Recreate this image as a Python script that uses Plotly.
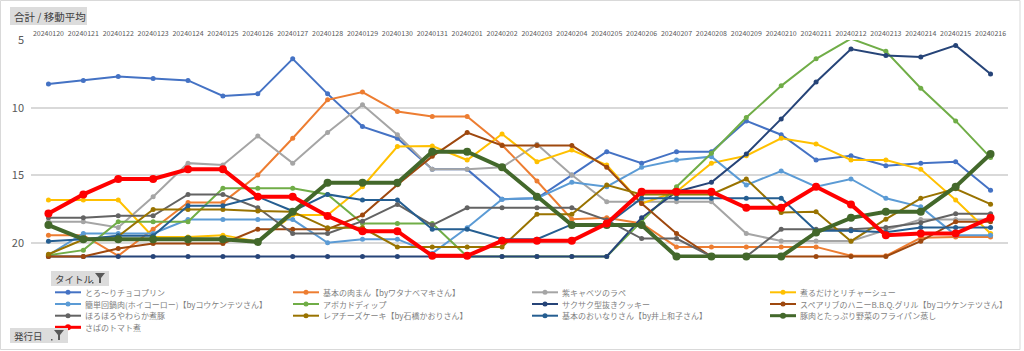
import plotly.graph_objects as go

# ---------------- data ----------------
dates = ["20240120", "20240121", "20240122", "20240123", "20240124", "20240125", "20240126",
         "20240127", "20240128", "20240129", "20240130", "20240131", "20240201", "20240202",
         "20240203", "20240204", "20240205", "20240206", "20240207", "20240208", "20240209",
         "20240210", "20240211", "20240212", "20240213", "20240214", "20240215", "20240216"]

names = ["とろ〜りチョコプリン", "基本の肉まん【byワタナベマキさん】", "紫キャベツのラペ", "煮るだけとリチャーシュー",
         "簡単回鍋肉(ホイコーロー)【byコウケンテツさん】", "アボカドディップ", "サクサク型抜きクッキー",
         "スペアリブのハニーB.B.Q.グリル【byコウケンテツさん】", "ほろほろやわらか煮豚",
         "レアチーズケーキ【by石橋かおりさん】", "基本のおいなりさん【by井上和子さん】",
         "豚肉とたっぷり野菜のフライパン蒸し", "さばのトマト煮"]

choco = [8.26, 7.99, 7.7, 7.84, 7.99, 9.13, 8.98, 6.39, 8.98, 11.4, 12.26, 14.56, 14.56, 16.76,
         16.7, 14.98, 13.25, 14.1, 13.25, 13.25, 10.98, 12.0, 13.87, 13.55, 14.29, 14.1, 13.99, 16.11]
nikuman = [19.42, 19.42, 20.95, 18.98, 17.0, 17.0, 14.98, 12.26, 9.42, 8.85, 10.29, 10.66, 10.66, 12.76,
           15.42, 18.24, 18.14, 18.56, 20.29, 20.29, 20.29, 20.29, 20.29, 20.95, 20.95, 19.62, 19.55, 19.55]
cabbage = [18.43, 18.43, 18.85, 16.58, 14.1, 14.24, 12.1, 14.1, 11.84, 9.79, 12.01, 14.56, 14.56, 14.41,
           12.7, 14.98, 16.95, 16.95, 16.95, 16.95, 19.3, 19.85, 19.85, 19.85, 19.05, 18.27, 18.27, 18.27]
chashu = [16.83, 16.83, 16.83, 19.55, 19.55, 19.42, 19.9, 17.94, 17.94, 15.84, 12.87, 12.83, 13.87, 11.94,
          13.99, 13.13, 14.24, 17.08, 16.21, 14.1, 13.55, 12.26, 12.68, 13.87, 13.87, 14.56, 16.83, 19.3]
hoikoro = [20.9, 19.3, 19.3, 19.3, 18.27, 18.27, 18.27, 18.27, 19.99, 19.72, 19.72, 20.77, 18.88, 16.76,
           16.7, 15.52, 15.84, 14.41, 13.87, 13.62, 15.72, 14.68, 15.84, 15.27, 16.7, 17.33, 19.42, 19.42]
avocado = [20.9, 20.53, 18.43, 18.43, 18.43, 15.96, 15.96, 15.96, 16.41, 18.56, 18.56, 18.56, 21.0, 21.0,
           21.0, 21.0, 21.0, 18.4, 15.84, 13.37, 10.73, 8.39, 6.39, 4.9, 5.84, 8.56, 10.98, 13.69]
cookie = [21.0, 21.0, 21.0, 21.0, 21.0, 21.0, 21.0, 21.0, 21.0, 21.0, 21.0, 21.0, 21.0, 21.0,
          21.0, 21.0, 21.0, 18.14, 16.21, 15.52, 13.42, 10.83, 8.11, 5.67, 6.14, 6.26, 5.4, 7.52]
spare = [21.0, 21.0, 20.41, 20.04, 20.04, 20.04, 18.98, 18.98, 18.98, 17.94, 15.7, 13.6, 11.84, 12.8,
         12.8, 12.8, 14.4, 17.08, 19.3, 21.0, 21.0, 21.0, 21.0, 21.0, 21.0, 19.87, 18.43, 18.43]
nibuta = [18.14, 18.14, 17.99, 17.99, 16.41, 16.41, 17.4, 19.3, 19.3, 18.39, 17.15, 18.68, 17.4, 17.4,
          17.4, 17.4, 18.31, 19.67, 19.67, 21.0, 21.0, 18.98, 18.98, 18.98, 18.85, 18.5, 17.84, 17.84]
cheese = [20.83, 19.75, 19.5, 17.52, 17.52, 17.52, 17.64, 17.7, 18.88, 18.88, 20.29, 20.29, 20.29, 20.29,
          17.87, 17.87, 15.72, 16.41, 16.41, 16.41, 15.27, 17.74, 17.69, 19.87, 18.24, 16.7, 16.0, 17.13]
inari = [19.87, 19.72, 19.47, 19.47, 17.25, 17.25, 16.58, 17.64, 16.41, 16.83, 16.83, 18.98, 18.98, 19.72,
         19.72, 18.63, 18.63, 16.7, 16.7, 16.7, 16.7, 16.7, 19.1, 19.1, 19.2, 18.85, 18.85, 18.85]
butaniku = [18.68, 19.72, 19.72, 19.72, 19.72, 19.72, 19.92, 17.69, 15.55, 15.55, 15.55, 13.25, 13.25, 14.41,
            16.58, 18.68, 18.68, 18.68, 21.0, 21.0, 21.0, 21.0, 19.22, 18.14, 17.69, 17.69, 15.84, 13.42]
saba = [17.82, 16.41, 15.27, 15.27, 14.56, 14.56, 16.58, 16.58, 18.01, 19.13, 19.13, 20.95, 20.95, 19.84,
        19.84, 19.84, 18.56, 16.21, 16.21, 16.21, 17.4, 17.4, 15.84, 17.15, 19.42, 19.3, 19.3, 18.14]

series = [choco, nikuman, cabbage, chashu, hoikoro, avocado, cookie, spare, nibuta, cheese, inari, butaniku, saba]
y_ticks = [5, 10, 15, 20]

# ---------------- styles ----------------
colors = ["#4472C4", "#ED7D31", "#A5A5A5", "#FFC000", "#5B9BD5", "#70AD47", "#264478",
          "#9E480E", "#636363", "#997300", "#255E91", "#43682B", "#FF0000"]
thick = [False] * 11 + [True, True]

W, H = 1024, 351
L, R, T, B = 31, 16, 40, 93
PW, PH = W - L - R, H - T - B


def px(x):
    return (x - L) / PW


def py(y):
    return (H - B - y) / PH


FONT = "Noto Sans CJK JP"

fig = go.Figure()
for vals, name, col, th in zip(series, names, colors, thick):
    fig.add_trace(go.Scatter(
        x=dates, y=vals, name=name, mode="lines+markers",
        line=dict(color=col, width=4 if th else 2),
        marker=dict(color=col, size=8 if th else 5),
        cliponaxis=False, showlegend=False))

shapes = []
annotations = []

# outer frame
shapes.append(dict(type="rect", xref="paper", yref="paper",
                   x0=px(0.5), x1=px(1020), y0=py(0.5), y1=py(349.5),
                   line=dict(color="#D9D9D9", width=1), layer="below"))

# custom legend (4 columns)
col_x = [55, 293, 532, 770]
row_y = [292.3, 304, 315.7, 327.3]
for k, (name, col, th) in enumerate(zip(names, colors, thick)):
    cx = col_x[k % 4]
    cy = row_y[k // 4]
    shapes.append(dict(type="line", xref="paper", yref="paper",
                       x0=px(cx), x1=px(cx + 26), y0=py(cy), y1=py(cy),
                       line=dict(color=col, width=3 if th else 2)))
    r = 3 if th else 2.5
    shapes.append(dict(type="circle", xref="paper", yref="paper",
                       xsizemode="pixel", ysizemode="pixel",
                       xanchor=px(cx + 13), yanchor=py(cy),
                       x0=-r, x1=r, y0=-r, y1=r,
                       fillcolor=col, line=dict(width=0)))
    annotations.append(dict(text=name, xref="paper", yref="paper",
                            x=px(cx + 28), y=py(cy), xanchor="left", yanchor="middle",
                            showarrow=False, font=dict(family=FONT, size=8, color="#7F7F7F")))


def button(x0, x1, y0, y1, label, size, icon=True):
    shapes.append(dict(type="rect", xref="paper", yref="paper",
                       x0=px(x0), x1=px(x1), y0=py(y0), y1=py(y1),
                       fillcolor="#DCDCDC", line=dict(width=0)))
    annotations.append(dict(text=label, xref="paper", yref="paper",
                            x=px(x0 + 2), y=py((y0 + y1) / 2), xanchor="left", yanchor="middle",
                            showarrow=False, font=dict(family=FONT, size=size, color="#404040")))
    if icon:
        fx = x1 - 14
        fy = y0 + 2
        path = "M {} {} L {} {} L {} {} L {} {} L {} {} L {} {} Z".format(
            px(fx), py(fy), px(fx + 10), py(fy), px(fx + 6), py(fy + 5),
            px(fx + 6), py(fy + 10), px(fx + 4), py(fy + 10), px(fx + 4), py(fy + 5))
        shapes.append(dict(type="path", xref="paper", yref="paper", path=path,
                           fillcolor="#595959", line=dict(width=0)))
        shapes.append(dict(type="rect", xref="paper", yref="paper",
                           x0=px(fx - 3), x1=px(fx - 1.5), y0=py(fy + 9), y1=py(fy + 10.5),
                           fillcolor="#595959", line=dict(width=0)))


button(10, 87, 7, 25, "合計 / 移動平均", 10.5, icon=False)
button(51, 109, 271, 286, "タイトル", 9.5)
button(10, 68, 328, 343, "発行日", 9.5)

fig.update_layout(
    width=W, height=H,
    margin=dict(l=L, r=R, t=T, b=B, pad=0),
    paper_bgcolor="white", plot_bgcolor="white",
    showlegend=False,
    font=dict(family=FONT, color="#595959"),
    shapes=shapes, annotations=annotations,
    xaxis=dict(type="category", side="top", range=[-0.5, len(dates) - 0.5],
               showgrid=False, zeroline=False, showline=False, ticks="",
               tickfont=dict(family=FONT, size=7, color="#595959"), tickangle=0,
               ticklabelstandoff=2),
    yaxis=dict(range=[21.11, 5], tickvals=y_ticks, showgrid=True, gridcolor="#D9D9D9",
               gridwidth=1.5, zeroline=False, showline=False, ticks="",
               tickfont=dict(family=FONT, size=11, color="#595959"),
               ticklabelstandoff=6),
)

fig.write_html("out.html")
